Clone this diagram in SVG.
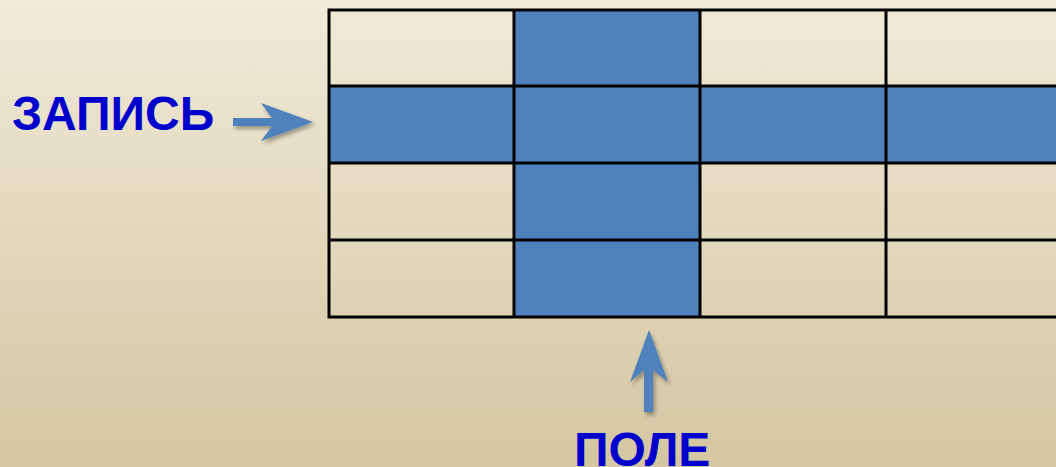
<svg xmlns="http://www.w3.org/2000/svg" width="1056" height="467" viewBox="0 0 1056 467">
<defs>
<linearGradient id="bg" x1="0" y1="0" x2="0" y2="1">
<stop offset="0" stop-color="#f0ead8"/>
<stop offset="1" stop-color="#d4c6a1"/>
</linearGradient>
<filter id="sh" x="-30%" y="-30%" width="160%" height="160%">
<feGaussianBlur in="SourceAlpha" stdDeviation="2"/>
<feOffset dx="2" dy="3" result="b"/>
<feComponentTransfer><feFuncA type="linear" slope="0.35"/></feComponentTransfer>
<feMerge><feMergeNode/><feMergeNode in="SourceGraphic"/></feMerge>
</filter>
<style>
.b{fill:#4f81bd}
.g{stroke:#000;stroke-width:3;fill:none}
.t{font-family:"Liberation Sans",Arial,sans-serif;font-weight:bold;font-size:48px;fill:#0000cc}
.a{fill:#4f81bd}
</style>
</defs>
<rect width="1056" height="467" fill="url(#bg)"/>
<g id="table">
<rect class="b" x="514" y="10" width="186" height="307"/>
<rect class="b" x="329" y="86" width="740" height="77"/>
<g class="g">
<rect x="329" y="10" width="740" height="307"/>
<line x1="514" y1="10" x2="514" y2="317"/>
<line x1="700" y1="10" x2="700" y2="317"/>
<line x1="886" y1="10" x2="886" y2="317"/>
<line x1="329" y1="86" x2="1069" y2="86"/>
<line x1="329" y1="163" x2="1069" y2="163"/>
<line x1="329" y1="240" x2="1069" y2="240"/>
</g>
</g>
<g id="zapis">
<text class="t" x="12" y="130">ЗАПИСЬ</text>
</g>
<g id="pole">
<text class="t" x="574" y="466">ПОЛЕ</text>
</g>
<g id="connectors">
<path class="a" filter="url(#sh)" d="M233,118 L272,118 L261,103 L313,122 L261,141 L272,126 L233,126 Z"/>
<path class="a" filter="url(#sh)" d="M644,412 L644,370 L630,382 L649,330 L668,382 L653,370 L653,412 Z"/>
</g>
</svg>
